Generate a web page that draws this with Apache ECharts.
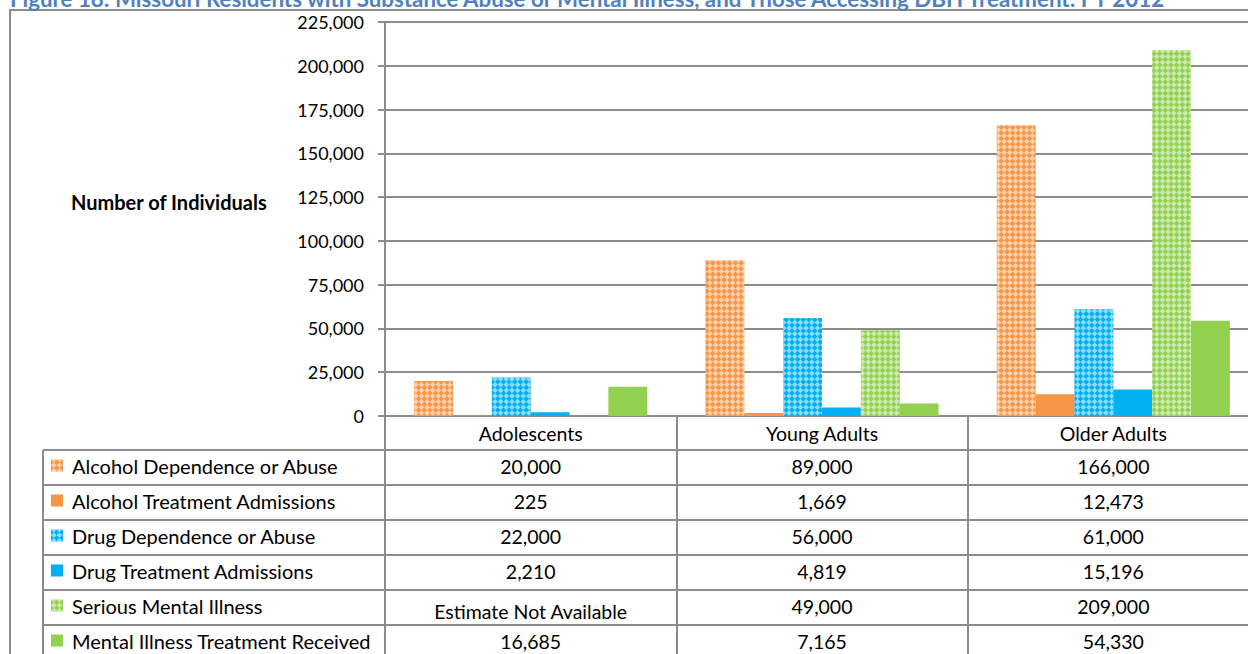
<!DOCTYPE html>
<html>
<head>
<meta charset="utf-8">
<script src="https://cdn.jsdelivr.net/npm/echarts@6/dist/echarts.min.js"></script>
<style>
  html, body { margin: 0; padding: 0; background: #fff; }
  #chart { width: 1248px; height: 654px; }
</style>
</head>
<body>
<div id="chart"></div>
<script>
// data
const categories = ['Adolescents', 'Young Adults', 'Older Adults'];
const seriesNames = [
  'Alcohol Dependence or Abuse',
  'Alcohol Treatment Admissions',
  'Drug Dependence or Abuse',
  'Drug Treatment Admissions',
  'Serious Mental Illness',
  'Mental Illness Treatment Received'
];
const alcoholDependence = [20000, 89000, 166000];
const alcoholAdmissions = [225, 1669, 12473];
const drugDependence = [22000, 56000, 61000];
const drugAdmissions = [2210, 4819, 15196];
const seriousMentalIllness = [null, 49000, 209000];
const mentalIllnessTreatment = [16685, 7165, 54330];
const yMin = 0;
const yMax = 225000;
const yStep = 25000;
const notAvailable = 'Estimate Not Available';

const seriesValues = [
  alcoholDependence, alcoholAdmissions, drugDependence,
  drugAdmissions, seriousMentalIllness, mentalIllnessTreatment
];
const colors = ['#F79646', '#F79646', '#00B0F0', '#00B0F0', '#92D050', '#92D050'];
const patterned = [true, false, true, false, true, false];

const FONT = 'Lato';
const ROW_H = 35;
const TABLE_TOP = 416;
const CELL_FONT = 19.5;
const fmt = v => v.toLocaleString('en-US');

const decal = {
  symbol: 'rect',
  symbolSize: 1,
  color: 'rgba(255,255,255,0.55)',
  dashArrayX: [[4, 4], [0, 4, 4, 0]],
  dashArrayY: [4, 0],
  rotation: Math.PI / 4
};

const series = seriesValues.map((vals, i) => ({
  name: seriesNames[i],
  type: 'bar',
  barGap: '0%',
  barCategoryGap: '20%',
  itemStyle: patterned[i] ? { color: colors[i], decal: decal } : { color: colors[i] },
  emphasis: { disabled: true },
  data: vals
}));

// one hidden category axis per table row, its labels are the cell values
const tableAxes = seriesValues.map((vals, k) => ({
  type: 'category',
  data: categories,
  gridIndex: 0,
  position: 'bottom',
  offset: ROW_H * (k + 1),
  axisLine: { show: false },
  axisTick: { show: false },
  splitLine: { show: false },
  axisLabel: {
    interval: 0,
    margin: 15,
    verticalAlign: 'middle',
    fontSize: CELL_FONT,
    fontFamily: FONT,
    color: '#000',
    formatter: (v, i) => vals[i] == null ? '{na|' + notAvailable + '}' : fmt(vals[i]),
    rich: { na: { fontSize: CELL_FONT, fontFamily: FONT, color: '#000', padding: [10, 0, 0, 0] } }
  }
}));

const lineStyle = { stroke: '#8c8c8c', lineWidth: 2 };
const graphic = [
  { type: 'rect', shape: { x: 10, y: 10, width: 1400, height: 800 }, style: { fill: null, ...lineStyle } },
  { type: 'line', shape: { x1: 43, y1: TABLE_TOP + ROW_H - 1, x2: 43, y2: 700 }, style: lineStyle },
  { type: 'text', x: 71, y: 202, style: { text: 'Number of Individuals', font: 'bold 20px ' + FONT, fill: '#000', verticalAlign: 'middle' } }
];
for (let k = 0; k < seriesNames.length; k++) {
  const y = TABLE_TOP + ROW_H * (k + 1) - 1;
  graphic.push({ type: 'line', shape: { x1: 43, y1: y, x2: 1400, y2: y }, style: lineStyle });
}

const option = {
  animation: false,
  textStyle: { fontFamily: FONT },
  title: {
    text: 'Figure 18: Missouri Residents with Substance Abuse or Mental Illness, and Those Accessing DBH Treatment: FY 2012',
    left: 10,
    top: -13,
    padding: 0,
    textStyle: { color: '#4F81BD', fontWeight: 'bold', fontSize: 22.3, fontFamily: FONT }
  },
  legend: {
    orient: 'vertical',
    left: 51,
    top: TABLE_TOP + ROW_H - 3,
    height: 300,
    padding: 0,
    itemGap: 0,
    itemWidth: 12,
    itemHeight: 12,
    icon: 'rect',
    selectedMode: false,
    textStyle: { fontSize: 20, lineHeight: ROW_H, color: '#000', fontFamily: FONT, padding: [0, 0, 0, 4] },
    data: seriesNames
  },
  grid: { left: 385, top: 22, width: 874, height: 394, containLabel: false, outerBoundsMode: 'none' },
  xAxis: [{
    type: 'category',
    data: categories,
    axisLine: { lineStyle: { color: '#8c8c8c', width: 2 } },
    axisTick: { show: true, length: 260, lineStyle: { color: '#8c8c8c', width: 2 } },
    axisLabel: { margin: 17, verticalAlign: 'middle', fontSize: CELL_FONT, color: '#000', fontFamily: FONT }
  }].concat(tableAxes),
  yAxis: {
    type: 'value',
    min: yMin,
    max: yMax,
    interval: yStep,
    axisLine: { show: true, lineStyle: { color: '#8c8c8c', width: 2 } },
    axisTick: { show: true, length: 7, lineStyle: { color: '#8c8c8c', width: 2 } },
    axisLabel: { margin: 21, fontSize: 18, color: '#000', fontFamily: FONT, formatter: v => fmt(v) },
    splitLine: { lineStyle: { color: '#8c8c8c', width: 2 } }
  },
  graphic: graphic,
  series: series
};

const chart = echarts.init(document.getElementById('chart'), null, { renderer: 'svg' });
chart.setOption(option);
</script>
</body>
</html>
